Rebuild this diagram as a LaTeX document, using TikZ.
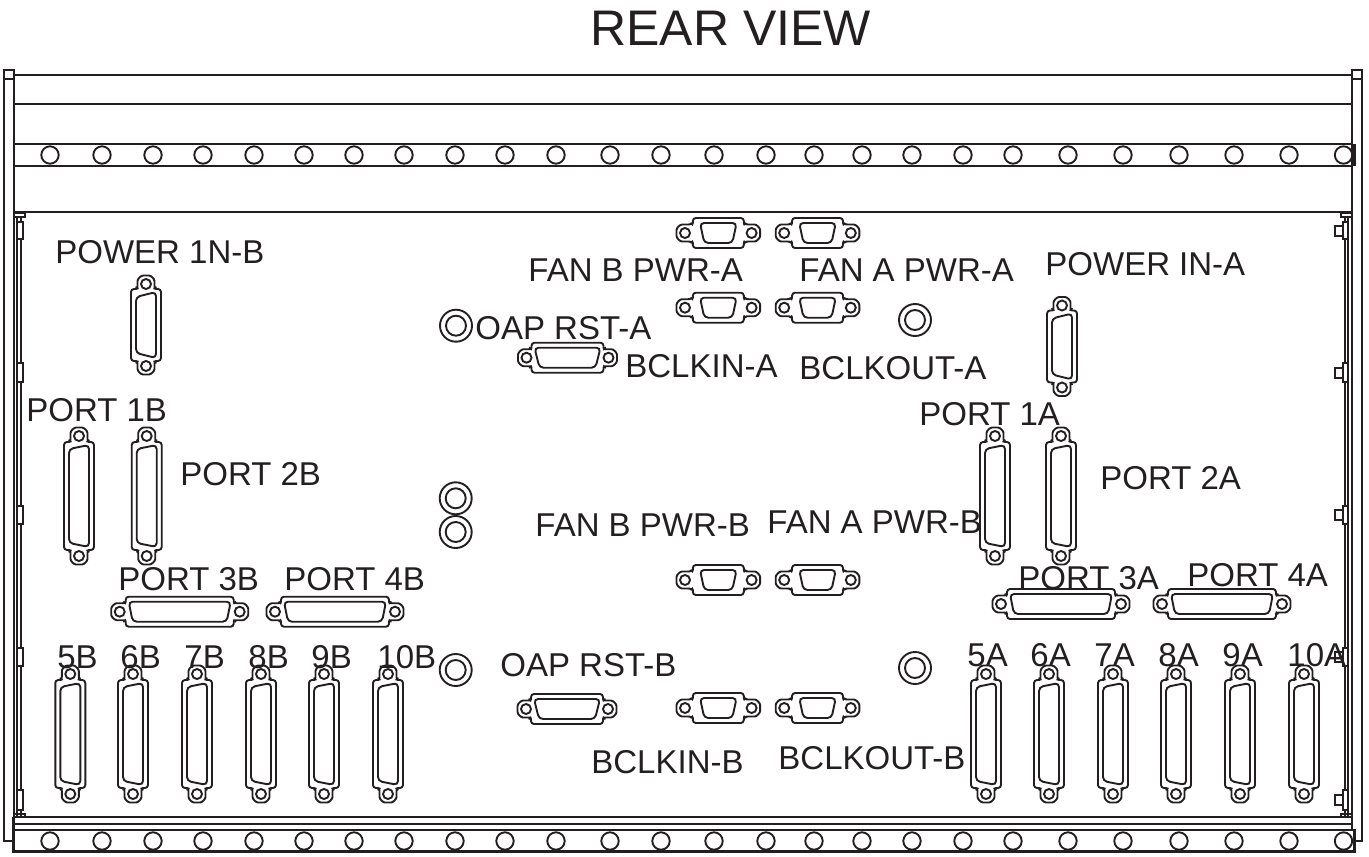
\documentclass[tikz,border=0pt]{standalone}
\usepackage{fontspec}
\usepackage{xcolor}
\setmainfont{Liberation Sans}
\usetikzlibrary{
  positioning
}
\definecolor{inkcolor}{HTML}{231F20}

\newcommand{\dsubshape}[4]{
  \draw[conn, rounded corners=1.5pt] (-#2,-15) -- (#2,-15) -- (#2,-7)
    .. controls ({#2+1},-8.5) and ({#1-3},-8.5) .. (#1,-8.5)
    .. controls ({#1+5},-8.5) and ({#1+8.5},-5) .. ({#1+8.5},0)
    .. controls ({#1+8.5},5) and ({#1+5},8.5) .. (#1,8.5)
    .. controls ({#1-3},8.5) and ({#2+1},8.5) .. (#2,7)
    -- (#2,15) -- (-#2,15) -- (-#2,7)
    .. controls ({-#2-1},8.5) and ({-#1+3},8.5) .. (-#1,8.5)
    .. controls ({-#1-5},8.5) and ({-#1-8.5},5) .. ({-#1-8.5},0)
    .. controls ({-#1-8.5},-5) and ({-#1-5},-8.5) .. (-#1,-8.5)
    .. controls ({-#1+3},-8.5) and ({-#2-1},-8.5) .. (-#2,-7) -- cycle;
  \draw[conn, rounded corners=2pt] (-#3,-10) -- (#3,-10) -- (#4,10) -- (-#4,10) -- cycle;
  \draw[conn] (-#1,0) circle[radius=5];
  \draw[conn] (#1,0) circle[radius=5];
}

\begin{document}
\begin{tikzpicture}[
  x=0.5pt, y=-0.5pt,
  conn/.style={draw=inkcolor, line width=0.95pt},
  rail/.style={draw=inkcolor, line width=1pt},
  heavy/.style={draw=inkcolor, line width=1.4pt},
  hole/.style={draw=inkcolor, line width=0.95pt},
  lbl/.style={font=\fontsize{16.5}{18}\selectfont, text=inkcolor, anchor=base west, inner sep=0pt},
  title/.style={font=\fontsize{25}{28}\selectfont, text=inkcolor, anchor=base west, inner sep=0pt},
  dlarge/.pic={\dsubshape{60}{54}{51}{47}},
  dmid/.pic={\dsubshape{41}{36}{33}{28}},
  dsmall/.pic={\dsubshape{33.3}{25.5}{18.3}{14}},
]
  \useasboundingbox (0,0) rectangle (1369,856);

  % Title
  \node[title] (rearview) at (590,46) {REAR VIEW};

  % Side posts
  \draw[rail] (4.3,70) rectangle (14,79);
  \draw[rail] (4.3,79) -- (4.3,840.7) -- (13.3,840.7);
  \draw[rail] (14,79) -- (14,817);
  \draw[rail] (1352,70) rectangle (1361.5,79);
  \draw[rail] (1361.5,79) -- (1361.5,840.7) -- (1354,840.7);
  \draw[rail] (1352,79) -- (1352,830);

  % Top rails
  \foreach \y in {75,104,144.3,166,212.3} {
    \draw[rail] (14,\y) -- (1352,\y);
  }
  \draw[draw=inkcolor, line width=2pt] (1353.5,144.3) -- (1353.5,166);

  % Bottom rails
  \foreach \y in {817.3,824} {
    \draw[rail] (13.3,\y) -- (1352,\y);
  }
  \draw[heavy] (13.3,817.3) -- (13.3,851.7) -- (1354.3,851.7) -- (1354.3,830) -- (13.3,830);

  % Mounting holes
  \foreach \x in {50,102,153,203,254,304,354,404,455,505,556,610,661,714,766,814,862,912,963,1013,1068,1123,1179,1234,1289,1343.5} {
    \draw[hole] (\x,155) circle[radius=8.7];
    \draw[hole] (\x,841) circle[radius=8.7];
  }

  % Side strips
  \draw[rail] (17.3,216) -- (17.3,817);
  \draw[rail] (21,216) -- (21,817);
  \draw[heavy] (1345,216) -- (1345,817);
  \draw[rail] (1348.3,216) -- (1348.3,817);
  \draw[rail] (14,213) rectangle (25,216.5);
  \draw[rail] (1341,213) rectangle (1352,216.5);
  \draw[rail] (14,813.5) rectangle (25,817);
  \draw[rail] (1341,813.5) rectangle (1352,817);
  \foreach \t/\b in {222/239,363/382,506/524,648/666,790/810} {
    \draw[rail, fill=white] (17.3,\t) rectangle (23.3,\b);
    \draw[rail, fill=white] (1343,\t) rectangle (1348.3,\b);
    \draw[rail, fill=white] (1334.5,{(\t+\b)/2-5}) rectangle (1343,{(\t+\b)/2+5});
  }

  % Coax sockets
  \foreach \x/\y in {456/325.7,915/320,455.7/498.3,455.7/532,455.7/670,915/668} {
    \draw[hole] (\x,\y) circle[radius=16];
    \draw[hole] (\x,\y) circle[radius=10];
  }

  % Upright connectors
  \foreach \x/\y in {79/496,146.7/496,995/496,1061/496,
                     70.3/734,133/734,197/734,261/734,324/734,388/734,
                     986/734,1049/734,1113/734,1176/734,1240/734,1304/734} {
    \pic[rotate=-90] at (\x,\y) {dlarge};
  }
  \foreach \x/\y in {146/325,1062/346.5} {
    \pic[rotate=-90] at (\x,\y) {dmid};
  }

  % Flat connectors
  \foreach \x/\y in {179.7/611.7,335/611.7,1061/604,1222/604} {
    \pic at (\x,\y) {dlarge};
  }
  \foreach \x/\y in {567.5/357.7,567/709} {
    \pic at (\x,\y) {dmid};
  }
  \foreach \x in {718.3,817.5} {
    \foreach \y in {233,307.7,580,708} {
      \pic at (\x,\y) {dsmall};
    }
  }

  % Labels
  \node[lbl] (pwr1nb) at (55,263) {POWER 1N-B};
  \node[lbl] (fanbpwra) at (528,281) {FAN B PWR-A};
  \node[lbl] (fanapwra) at (799,281) {FAN A PWR-A};
  \node[lbl] (pwrina) at (1045,275) {POWER IN-A};
  \node[lbl] (oaprsta) at (475,339) {OAP RST-A};
  \node[lbl] (bclkina) at (625,377) {BCLKIN-A};
  \node[lbl] (bclkouta) at (799,379) {BCLKOUT-A};
  \node[lbl] (port1b) at (26,421) {PORT 1B};
  \node[lbl] (port2b) at (180,485) {PORT 2B};
  \node[lbl] (port1a) at (919,425) {PORT 1A};
  \node[lbl] (port2a) at (1100,489) {PORT 2A};
  \node[lbl] (fanbpwrb) at (535,536) {FAN B PWR-B};
  \node[lbl] (fanapwrb) at (767,533) {FAN A PWR-B};
  \node[lbl] (port3b) at (118,590) {PORT 3B};
  \node[lbl] (port4b) at (284,590) {PORT 4B};
  \node[lbl] (port3a) at (1018,589) {PORT 3A};
  \node[lbl] (port4a) at (1187,586) {PORT 4A};
  \node[lbl] (oaprstb) at (500,676) {OAP RST-B};
  \node[lbl] (bclkinb) at (591,773) {BCLKIN-B};
  \node[lbl] (bclkoutb) at (778,769) {BCLKOUT-B};
  \foreach \x/\k in {57/5,120/6,184/7,248/8,311/9,377/10} {
    \node[lbl] (p\k b) at (\x,668) {\k B};
  }
  \foreach \x/\k in {967/5,1030/6,1094/7,1158/8,1222/9,1287/10} {
    \node[lbl] (p\k a) at (\x,666) {\k A};
  }

\end{tikzpicture}
\end{document}
